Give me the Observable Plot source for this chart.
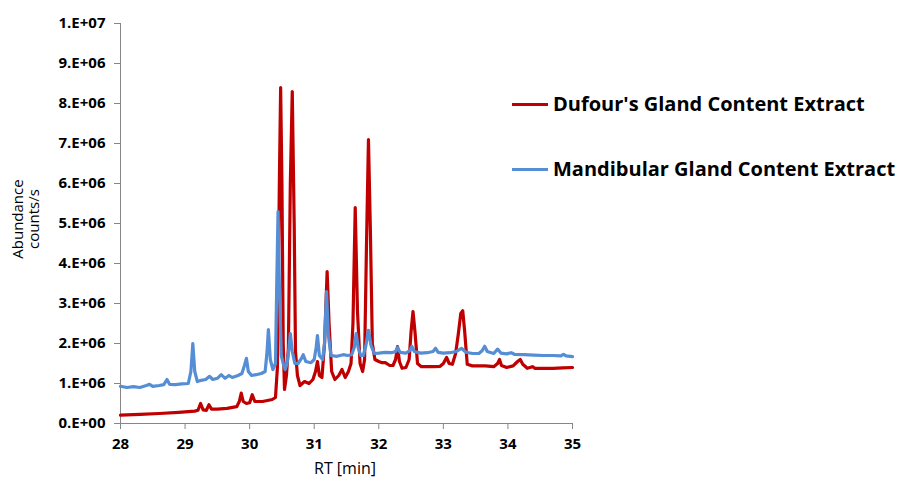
<!DOCTYPE html>
<html>
<head>
<meta charset="utf-8">
<script src="https://cdn.jsdelivr.net/npm/d3@7"></script>
<script src="https://cdn.jsdelivr.net/npm/@observablehq/plot@0.6"></script>
<style>
  body { margin: 0; background: #fff; }
  #wrap { position: relative; width: 897px; height: 478px; font-family: "Open Sans", sans-serif; color: #000; overflow: hidden; }
  #wrap svg { position: absolute; left: 0; top: 0; }
  #wrap svg [aria-label$="tick label"] { font-weight: 700; font-size: 15px; }
  .ylab { position: absolute; left: -46px; top: 199px; width: 150px; height: 40px; line-height: 16px;
          font-size: 15px; text-align: center; transform: rotate(-90deg); }
  .xlab { position: absolute; left: 245px; top: 459px; width: 200px; height: 18px; text-align: center; font-size: 16px; line-height: 18px; }
  .leg { position: absolute; left: 512px; height: 24px; }
  .leg .sw { position: absolute; left: 0; top: 10.5px; width: 36px; height: 3px; }
  .leg .lt { position: absolute; left: 41px; top: 0; white-space: nowrap; font-weight: 700; font-size: 20px; line-height: 24px; }
</style>
</head>
<body>
<div id="wrap"></div>
<script>
// ---- data ----
const seriesNames = ["Dufour's Gland Content Extract", "Mandibular Gland Content Extract"];
const seriesColors = ["#C00000", "#558ED5"];

const dufourRT = [28.00,28.30,28.60,28.90,29.15,29.20,29.24,29.28,29.33,29.37,29.41,29.50,29.65,29.80,29.84,29.87,29.90,29.95,30.00,30.04,30.08,30.20,30.35,30.40,30.43,30.46,30.48,30.50,30.52,30.54,30.57,30.60,30.63,30.66,30.69,30.71,30.74,30.78,30.85,30.92,30.98,31.02,31.05,31.08,31.12,31.16,31.20,31.23,31.27,31.32,31.38,31.43,31.48,31.53,31.57,31.60,31.635,31.67,31.71,31.75,31.78,31.81,31.84,31.87,31.90,31.94,32.00,32.05,32.10,32.17,32.22,32.26,32.29,32.32,32.36,32.42,32.47,32.50,32.53,32.56,32.60,32.66,32.75,32.85,32.95,33.00,33.05,33.09,33.14,33.19,33.23,33.27,33.30,33.33,33.37,33.45,33.55,33.65,33.78,33.84,33.87,33.90,33.98,34.08,34.15,34.19,34.23,34.30,34.38,34.42,34.55,34.70,34.85,35.00];
const dufourAbundance = [0.21e6,0.23e6,0.25e6,0.28e6,0.31e6,0.33e6,0.50e6,0.34e6,0.33e6,0.47e6,0.36e6,0.36e6,0.38e6,0.42e6,0.55e6,0.76e6,0.55e6,0.50e6,0.52e6,0.72e6,0.55e6,0.55e6,0.60e6,0.65e6,1.4e6,6.0e6,8.4e6,6.0e6,2.0e6,0.85e6,1.2e6,1.9e6,6.0e6,8.3e6,5.0e6,1.8e6,1.2e6,0.95e6,1.05e6,1.0e6,1.1e6,1.3e6,1.55e6,1.2e6,1.15e6,2.0e6,3.8e6,2.5e6,1.3e6,1.1e6,1.2e6,1.35e6,1.15e6,1.3e6,1.5e6,2.5e6,5.4e6,2.8e6,1.5e6,1.3e6,1.6e6,4.5e6,7.1e6,4.8e6,2.0e6,1.6e6,1.55e6,1.52e6,1.52e6,1.45e6,1.45e6,1.6e6,1.92e6,1.55e6,1.38e6,1.40e6,1.6e6,2.3e6,2.8e6,2.3e6,1.5e6,1.42e6,1.42e6,1.42e6,1.43e6,1.5e6,1.65e6,1.5e6,1.48e6,1.75e6,2.22e6,2.75e6,2.82e6,2.3e6,1.48e6,1.44e6,1.44e6,1.44e6,1.42e6,1.5e6,1.6e6,1.45e6,1.40e6,1.44e6,1.55e6,1.6e6,1.48e6,1.38e6,1.42e6,1.38e6,1.38e6,1.38e6,1.39e6,1.40e6];

const mandibularRT = [28.00,28.10,28.20,28.30,28.40,28.45,28.50,28.60,28.67,28.72,28.76,28.85,28.95,29.05,29.09,29.12,29.15,29.19,29.25,29.32,29.38,29.43,29.50,29.56,29.62,29.68,29.73,29.82,29.88,29.92,29.95,29.98,30.03,30.10,30.18,30.24,30.27,30.29,30.32,30.36,30.40,30.42,30.44,30.46,30.49,30.52,30.55,30.58,30.61,30.63,30.66,30.70,30.75,30.80,30.83,30.87,30.95,31.00,31.03,31.05,31.08,31.13,31.16,31.19,31.22,31.26,31.35,31.45,31.52,31.58,31.62,31.65,31.68,31.72,31.76,31.80,31.84,31.88,31.93,32.00,32.10,32.20,32.26,32.29,32.33,32.42,32.48,32.51,32.55,32.65,32.75,32.84,32.88,32.92,33.00,33.10,33.20,33.28,33.35,33.45,33.55,33.60,33.64,33.68,33.78,33.84,33.89,33.98,34.05,34.10,34.25,34.40,34.55,34.70,34.82,34.86,34.90,35.00];
const mandibularAbundance = [0.93e6,0.90e6,0.92e6,0.90e6,0.95e6,0.98e6,0.93e6,0.95e6,0.97e6,1.1e6,0.98e6,0.97e6,0.99e6,1.0e6,1.3e6,2.0e6,1.3e6,1.05e6,1.08e6,1.1e6,1.18e6,1.1e6,1.13e6,1.22e6,1.13e6,1.2e6,1.15e6,1.2e6,1.25e6,1.45e6,1.63e6,1.3e6,1.2e6,1.22e6,1.25e6,1.3e6,1.8e6,2.35e6,1.6e6,1.35e6,1.5e6,3.5e6,5.3e6,3.5e6,1.7e6,1.5e6,1.35e6,1.5e6,1.9e6,2.25e6,1.8e6,1.5e6,1.5e6,1.62e6,1.72e6,1.55e6,1.52e6,1.6e6,1.9e6,2.2e6,1.7e6,1.6e6,2.0e6,3.3e6,2.2e6,1.7e6,1.68e6,1.72e6,1.7e6,1.72e6,1.9e6,2.25e6,1.9e6,1.7e6,1.7e6,1.95e6,2.33e6,1.95e6,1.75e6,1.76e6,1.78e6,1.77e6,1.8e6,1.9e6,1.78e6,1.76e6,1.82e6,1.93e6,1.8e6,1.76e6,1.77e6,1.8e6,1.88e6,1.78e6,1.76e6,1.77e6,1.8e6,1.88e6,1.78e6,1.75e6,1.75e6,1.82e6,1.93e6,1.8e6,1.75e6,1.86e6,1.76e6,1.74e6,1.77e6,1.73e6,1.72e6,1.71e6,1.70e6,1.70e6,1.69e6,1.73e6,1.69e6,1.67e6];

const xTicks = [28, 29, 30, 31, 32, 33, 34, 35];
const xTickLabels = ["28", "29", "30", "31", "32", "33", "34", "35"];
const yTicks = [0, 1e6, 2e6, 3e6, 4e6, 5e6, 6e6, 7e6, 8e6, 9e6, 1e7];
const yTickLabels = ["0.E+00", "1.E+06", "2.E+06", "3.E+06", "4.E+06", "5.E+06", "6.E+06", "7.E+06", "8.E+06", "9.E+06", "1.E+07"];
const xTitle = "RT [min]";
const yTitle = ["Abundance", "counts/s"];

// ---- build tables ----
const dufour = dufourRT.map((rt, i) => ({rt, abundance: dufourAbundance[i]}));
const mandibular = mandibularRT.map((rt, i) => ({rt, abundance: mandibularAbundance[i]}));

const axisGray = "#868686";
const chart = Plot.plot({
  width: 897,
  height: 478,
  marginLeft: 120,
  marginRight: 325,
  marginTop: 23,
  marginBottom: 55,
  style: {fontFamily: "Open Sans", background: "transparent", color: "#000"},
  x: {domain: [28, 35]},
  y: {domain: [0, 1e7]},
  marks: [
    Plot.ruleX([28], {stroke: axisGray, strokeWidth: 1}),
    Plot.ruleY([0], {stroke: axisGray, strokeWidth: 1}),
    Plot.axisY({ticks: yTicks, tickFormat: d => yTickLabels[yTicks.indexOf(d)], tickSize: 6, tickPadding: 9, stroke: axisGray, fill: "#000", label: null}),
    Plot.axisX({ticks: xTicks, tickFormat: d => xTickLabels[xTicks.indexOf(d)], tickSize: 6, tickPadding: 9, stroke: axisGray, fill: "#000", label: null}),
    Plot.line(dufour, {x: "rt", y: "abundance", stroke: seriesColors[0], strokeWidth: 3.2, strokeLinejoin: "round"}),
    Plot.line(mandibular, {x: "rt", y: "abundance", stroke: seriesColors[1], strokeWidth: 3.2, strokeLinejoin: "round"})
  ]
});

const wrap = document.getElementById("wrap");
wrap.appendChild(chart);

const yl = document.createElement("div");
yl.className = "ylab";
yl.innerHTML = yTitle.join("<br>");
wrap.appendChild(yl);

const xl = document.createElement("div");
xl.className = "xlab";
xl.textContent = xTitle;
wrap.appendChild(xl);

const legTops = [92, 157];
seriesNames.forEach((name, i) => {
  const d = document.createElement("div");
  d.className = "leg";
  d.style.top = legTops[i] + "px";
  const sw = document.createElement("div");
  sw.className = "sw";
  sw.style.background = seriesColors[i];
  const t = document.createElement("div");
  t.className = "lt";
  t.textContent = name;
  d.appendChild(sw);
  d.appendChild(t);
  wrap.appendChild(d);
});
</script>
</body>
</html>
